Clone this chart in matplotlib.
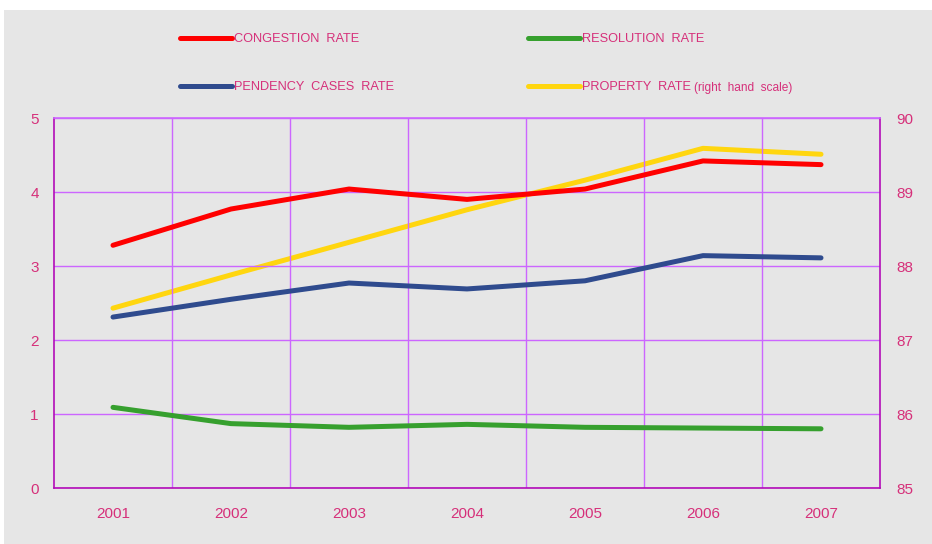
import matplotlib.pyplot as plt
from matplotlib.lines import Line2D
from matplotlib.patches import Rectangle

years = ['2001', '2002', '2003', '2004', '2005', '2006', '2007']
congestion = [3.28, 3.77, 4.04, 3.90, 4.04, 4.42, 4.37]
pendency = [2.31, 2.55, 2.77, 2.69, 2.80, 3.14, 3.11]
resolution = [1.09, 0.87, 0.82, 0.86, 0.82, 0.81, 0.80]
property_rate = [87.43, 87.88, 88.32, 88.76, 89.16, 89.59, 89.51]

red = '#ff0000'
green = '#36a02e'
blue = '#2f4b8e'
yellow = '#ffd60f'
pink = '#d6307a'
grid_col = '#cc66ff'
spine_col = '#b30cb8'
bg = '#e6e6e6'

plt.rcParams['font.family'] = ['Liberation Sans', 'DejaVu Sans']

fig = plt.figure(figsize=(9.32, 5.44), dpi=100)
fig.patch.set_facecolor('white')
fig.add_artist(Rectangle((4 / 932, 0), 1, 1 - 10 / 544, transform=fig.transFigure,
                         facecolor=bg, edgecolor='none', zorder=-10))

ax = fig.add_axes([54 / 932, 1 - 488 / 544, 826 / 932, 370 / 544])
ax.set_facecolor(bg)
x = list(range(len(years)))
lw = 3.6
ax.plot(x, congestion, color=red, lw=lw, solid_capstyle='round', solid_joinstyle='round', zorder=3)
ax.plot(x, resolution, color=green, lw=lw, solid_capstyle='round', solid_joinstyle='round', zorder=3)
ax.plot(x, pendency, color=blue, lw=lw, solid_capstyle='round', solid_joinstyle='round', zorder=3)

ax.set_xlim(-0.5, len(years) - 0.5)
ax.set_ylim(0, 5)
ax.set_yticks(range(6))
ax.set_xticks(x)
ax.set_xticklabels(years)
ax.set_xticks([i + 0.5 for i in range(len(years) - 1)], minor=True)
ax.grid(True, which='minor', axis='x', color=grid_col, lw=1)
ax.grid(True, which='major', axis='y', color=grid_col, lw=1)
ax.tick_params(axis='both', which='both', length=0, colors=pink, labelsize=11)
ax.tick_params(axis='x', pad=14)
ax.tick_params(axis='y', pad=11)
for s in ['left', 'bottom', 'right']:
    ax.spines[s].set_color(spine_col)
    ax.spines[s].set_linewidth(1.2)
ax.spines['top'].set_color(grid_col)
ax.spines['top'].set_linewidth(1.2)

# property rate on the right hand scale
ax2 = ax.twinx()
ax2.plot(x, property_rate, color=yellow, lw=lw, solid_capstyle='round', solid_joinstyle='round', zorder=2)
ax2.set_ylim(85, 90)
ax2.set_yticks(range(85, 91))
ax2.tick_params(axis='y', length=0, colors=pink, labelsize=11, pad=12)
for s in ax2.spines.values():
    s.set_visible(False)
ax.set_zorder(ax2.get_zorder() + 1)
ax.patch.set_visible(False)
ax2.patch.set_visible(False)

# legend, placed by hand above the plot
entries = [('CONGESTION  RATE', red, 180, 38), ('RESOLUTION  RATE', green, 528, 38),
           ('PENDENCY  CASES  RATE', blue, 180, 86), ('PROPERTY  RATE', yellow, 528, 86)]
for label, col, px, py in entries:
    yf = 1 - py / 544
    fig.add_artist(Line2D([px / 932, (px + 52) / 932], [yf, yf], transform=fig.transFigure,
                          color=col, lw=3.6, solid_capstyle='round'))
    t = fig.text((px + 54) / 932, yf - 1.5 / 544, label, color=pink, fontsize=9.2, va='center')
    if label.startswith('PROPERTY'):
        ax.annotate('(right  hand  scale)', xy=(1, 0.5), xycoords=t, xytext=(2, 0),
                    textcoords='offset points', color=pink, fontsize=8.6, va='center',
                    annotation_clip=False)

fig.savefig('out.png', dpi=100, facecolor=fig.get_facecolor())
